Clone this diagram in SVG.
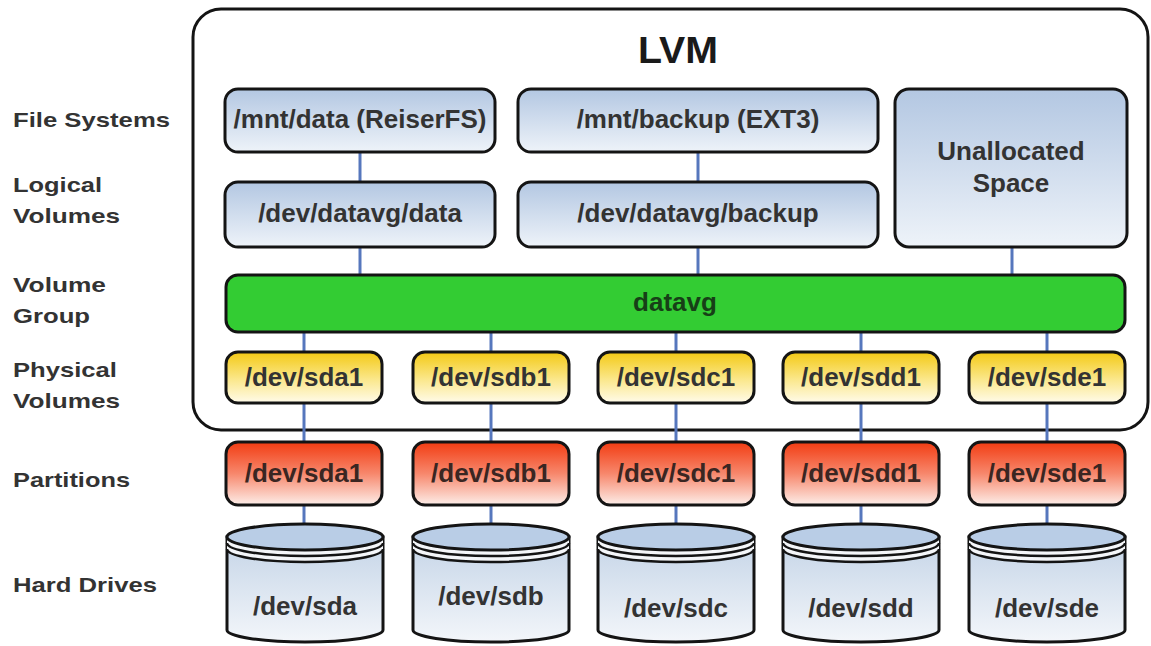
<svg xmlns="http://www.w3.org/2000/svg" width="1151" height="646" viewBox="0 0 1151 646">
<style>
.lbl{font-family:"Liberation Sans",Arial,sans-serif;font-weight:bold;font-size:21px;fill:#333;}
.t{font-family:"Liberation Sans",Arial,sans-serif;font-weight:bold;font-size:26px;fill:#333;text-anchor:middle;}
.box{stroke:#141414;stroke-width:3;}
.blue{fill:url(#gBlue);}
.yel{fill:url(#gYel);}
.red{fill:url(#gRed);}
.con line{stroke:#5677bd;stroke-width:3;}
</style>
<defs>
<linearGradient id="gBlue" x1="0" y1="0" x2="0" y2="1"><stop offset="0" stop-color="#b3c7e2"/><stop offset="1" stop-color="#eef3f9"/></linearGradient>
<linearGradient id="gYel" x1="0" y1="0" x2="0" y2="1"><stop offset="0" stop-color="#f3c914"/><stop offset="0.55" stop-color="#fbe88e"/><stop offset="1" stop-color="#fffbea"/></linearGradient>
<linearGradient id="gRed" x1="0" y1="0" x2="0" y2="1"><stop offset="0" stop-color="#f23c12"/><stop offset="0.5" stop-color="#f7876c"/><stop offset="1" stop-color="#fdeee9"/></linearGradient>
<linearGradient id="gBody" x1="0" y1="0" x2="0" y2="1"><stop offset="0" stop-color="#c4d4e7"/><stop offset="1" stop-color="#f3f6fa"/></linearGradient>
<g id="cyl">
<path d="M -78 537 V 630 A 78 12 0 0 0 78 630 V 537 Z" fill="url(#gBody)" stroke="#141414" stroke-width="3"/>
<path d="M -78 537 A 78 13 0 0 0 78 537 V 549 A 78 13 0 0 1 -78 549 Z" fill="#f4f6f9"/>
<path d="M -78 543 A 78 13 0 0 0 78 543 M -78 549 A 78 13 0 0 0 78 549" fill="none" stroke="#141414" stroke-width="2.5"/>
<ellipse cx="0" cy="537" rx="78" ry="13" fill="#b9cde6" stroke="#141414" stroke-width="3"/>
</g>
</defs>
<rect width="1151" height="646" fill="#ffffff"/>

<g id="labels">
<text class="lbl" x="13" y="127" textLength="157" lengthAdjust="spacingAndGlyphs">File Systems</text>
<text class="lbl" x="13" y="192" textLength="89" lengthAdjust="spacingAndGlyphs">Logical</text>
<text class="lbl" x="13" y="223" textLength="107" lengthAdjust="spacingAndGlyphs">Volumes</text>
<text class="lbl" x="13" y="292" textLength="93" lengthAdjust="spacingAndGlyphs">Volume</text>
<text class="lbl" x="13" y="323" textLength="77" lengthAdjust="spacingAndGlyphs">Group</text>
<text class="lbl" x="13" y="377" textLength="104" lengthAdjust="spacingAndGlyphs">Physical</text>
<text class="lbl" x="13" y="408" textLength="107" lengthAdjust="spacingAndGlyphs">Volumes</text>
<text class="lbl" x="13" y="487" textLength="117" lengthAdjust="spacingAndGlyphs">Partitions</text>
<text class="lbl" x="13" y="592" textLength="144" lengthAdjust="spacingAndGlyphs">Hard Drives</text>
</g>

<g id="lvm">
<rect x="193" y="9" width="955" height="421" rx="28" fill="#ffffff" stroke="#141414" stroke-width="3"/>
<text x="678" y="63" font-family="Liberation Sans, Arial, sans-serif" font-weight="bold" font-size="36" fill="#1a1a1a" text-anchor="middle" textLength="80" lengthAdjust="spacingAndGlyphs">LVM</text>
</g>

<g class="con" id="connectors">
<line x1="360" y1="152" x2="360" y2="182"/>
<line x1="360" y1="247" x2="360" y2="275"/>
<line x1="698" y1="152" x2="698" y2="182"/>
<line x1="698" y1="247" x2="698" y2="275"/>
<line x1="1012" y1="247" x2="1012" y2="275"/>
<line x1="304" y1="332" x2="304" y2="524"/>
<line x1="491" y1="332" x2="491" y2="524"/>
<line x1="676" y1="332" x2="676" y2="524"/>
<line x1="861" y1="332" x2="861" y2="524"/>
<line x1="1047" y1="332" x2="1047" y2="524"/>
</g>

<g id="fs-data"><rect class="box blue" x="225" y="89" width="270" height="63" rx="13"/><text class="t" x="360" y="128">/mnt/data (ReiserFS)</text></g>
<g id="fs-backup"><rect class="box blue" x="518" y="89" width="360" height="63" rx="13"/><text class="t" x="698" y="128">/mnt/backup (EXT3)</text></g>
<g id="lv-data"><rect class="box blue" x="225" y="182" width="270" height="65" rx="13"/><text class="t" x="360" y="222">/dev/datavg/data</text></g>
<g id="lv-backup"><rect class="box blue" x="518" y="182" width="360" height="65" rx="13"/><text class="t" x="698" y="222">/dev/datavg/backup</text></g>
<g id="unallocated"><rect class="box blue" x="895" y="89" width="232" height="158" rx="14"/><text class="t" x="1011" y="160">Unallocated</text><text class="t" x="1011" y="192">Space</text></g>

<g id="vg-datavg"><rect class="box" x="226" y="275" width="899" height="57" rx="12" fill="#33cc33"/><text class="t" x="675" y="311" fill="#173f17" style="fill:#173f17">datavg</text></g>

<g id="pv-sda1"><rect class="box yel" x="226" y="352" width="156" height="51" rx="12"/><text class="t" x="304" y="386">/dev/sda1</text></g>
<g id="pv-sdb1"><rect class="box yel" x="413" y="352" width="156" height="51" rx="12"/><text class="t" x="491" y="386">/dev/sdb1</text></g>
<g id="pv-sdc1"><rect class="box yel" x="598" y="352" width="156" height="51" rx="12"/><text class="t" x="676" y="386">/dev/sdc1</text></g>
<g id="pv-sdd1"><rect class="box yel" x="783" y="352" width="156" height="51" rx="12"/><text class="t" x="861" y="386">/dev/sdd1</text></g>
<g id="pv-sde1"><rect class="box yel" x="969" y="352" width="156" height="51" rx="12"/><text class="t" x="1047" y="386">/dev/sde1</text></g>

<g id="part-sda1"><rect class="box red" x="226" y="442" width="156" height="63" rx="12"/><text class="t" x="304" y="482" style="fill:#3a2622">/dev/sda1</text></g>
<g id="part-sdb1"><rect class="box red" x="413" y="442" width="156" height="63" rx="12"/><text class="t" x="491" y="482" style="fill:#3a2622">/dev/sdb1</text></g>
<g id="part-sdc1"><rect class="box red" x="598" y="442" width="156" height="63" rx="12"/><text class="t" x="676" y="482" style="fill:#3a2622">/dev/sdc1</text></g>
<g id="part-sdd1"><rect class="box red" x="783" y="442" width="156" height="63" rx="12"/><text class="t" x="861" y="482" style="fill:#3a2622">/dev/sdd1</text></g>
<g id="part-sde1"><rect class="box red" x="969" y="442" width="156" height="63" rx="12"/><text class="t" x="1047" y="482" style="fill:#3a2622">/dev/sde1</text></g>

<g id="hd-sda"><use href="#cyl" x="305"/><text class="t" x="305" y="615">/dev/sda</text></g>
<g id="hd-sdb"><use href="#cyl" x="491"/><text class="t" x="491" y="605">/dev/sdb</text></g>
<g id="hd-sdc"><use href="#cyl" x="676"/><text class="t" x="676" y="617">/dev/sdc</text></g>
<g id="hd-sdd"><use href="#cyl" x="861"/><text class="t" x="861" y="617">/dev/sdd</text></g>
<g id="hd-sde"><use href="#cyl" x="1047"/><text class="t" x="1047" y="617">/dev/sde</text></g>
</svg>
